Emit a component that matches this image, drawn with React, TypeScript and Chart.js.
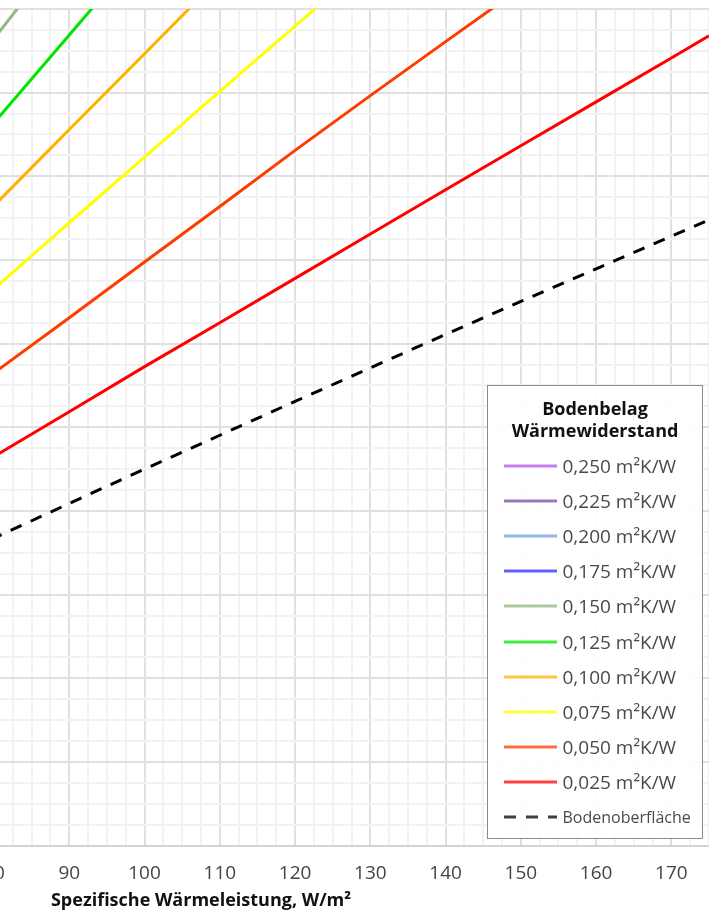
import React, { useEffect, useRef } from 'react';
import { Chart, registerables } from 'chart.js';

Chart.register(...registerables);

// Spezifische Wärmeleistung, W/m²
const Q = [40, 50, 60, 70, 80, 90, 100, 110, 120, 130, 140, 150, 160, 170, 175];

// Temperaturdifferenz, K (read from the picture / estimated where outside the visible part)
const R250 = [13.8, 17.25, 20.65, 24.0, 27.3, 30.6, 33.9, 37.1, 40.3, 43.5, 46.7, 49.8, 52.9, 56.0, 57.5];
const R225 = [12.85, 16.0, 19.15, 22.25, 25.3, 28.4, 31.4, 34.4, 37.4, 40.4, 43.4, 46.3, 49.2, 52.1, 53.5];
const R200 = [11.8, 14.7, 17.6, 20.45, 23.3, 26.1, 28.9, 31.7, 34.5, 37.3, 40.0, 42.8, 45.5, 48.2, 49.5];
const R175 = [10.8, 13.45, 16.1, 18.7, 21.3, 23.9, 26.4, 29.0, 31.5, 34.0, 36.5, 39.0, 41.5, 44.0, 45.2];
const R150 = [9.8, 12.2, 14.6, 16.96, 19.29, 21.6, 23.9, 26.2, 28.5, 30.8, 33.1, 35.4, 37.7, 39.9, 41.0];
const R125 = [8.75, 10.9, 13.05, 15.17, 17.28, 19.38, 21.48, 23.57, 25.66, 27.74, 29.8, 31.9, 33.9, 36.0, 37.0];
const R100 = [7.85, 9.74, 11.6, 13.47, 15.3, 17.12, 18.93, 20.75, 22.55, 24.35, 26.1, 27.9, 29.7, 31.4, 32.3];
const R075 = [6.84, 8.48, 10.1, 11.72, 13.31, 14.89, 16.46, 18.03, 19.59, 21.15, 22.7, 24.2, 25.7, 27.2, 28.0];
const R050 = [5.83, 7.22, 8.6, 9.96, 11.3, 12.62, 13.95, 15.28, 16.62, 17.93, 19.22, 20.5, 21.8, 23.0, 23.7];
const R025 = [4.9, 6.02, 7.13, 8.22, 9.3, 10.37, 11.45, 12.5, 13.56, 14.62, 15.68, 16.73, 17.78, 18.83, 19.36];
const SURFACE = [3.91, 4.79, 5.65, 6.51, 7.35, 8.18, 9.0, 9.81, 10.62, 11.42, 12.22, 13.01, 13.79, 14.57, 14.96];

const SERIES = [R250, R225, R200, R175, R150, R125, R100, R075, R050, R025, SURFACE];
const LABELS = [
  '0,250 m²K/W',
  '0,225 m²K/W',
  '0,200 m²K/W',
  '0,175 m²K/W',
  '0,150 m²K/W',
  '0,125 m²K/W',
  '0,100 m²K/W',
  '0,075 m²K/W',
  '0,050 m²K/W',
  '0,025 m²K/W',
  'Bodenoberfläche',
];
const COLORS = [
  '#b44ee6',
  '#7a4a9e',
  '#6f9be0',
  '#2b2bff',
  '#93b77f',
  '#00e600',
  '#ffb000',
  '#ffff00',
  '#ff3c00',
  '#ff0000',
  '#000000',
];
const DASHED = [false, false, false, false, false, false, false, false, false, false, true];

const X_MIN = 40;
const X_MAX = 175;
const Y_MIN = 0;
const Y_MAX = 20;
const X_TITLE = 'Spezifische Wärmeleistung, W/m²';
const Y_TITLE = 'Temperaturdifferenz, K';
const LEGEND_TITLE = ['Bodenbelag', 'Wärmewiderstand'];

const FONT = '"Open Sans", "Noto Sans", sans-serif';
const MAJOR = '#e0e0e0';
const MINOR = '#f2f2f2';

const Y_AXIS_WIDTH = 70;
const CANVAS_LEFT = -377;
const CANVAS_W = 1086;
const CANVAS_H = 912;

export default function App() {
  const ref = useRef<HTMLCanvasElement | null>(null);

  useEffect(() => {
    document.body.style.overflow = 'hidden';
    const canvas = ref.current;
    if (!canvas) return;
    const chart = new Chart(canvas, {
      type: 'line',
      data: {
        datasets: SERIES.map((s, i) => ({
          label: LABELS[i],
          data: s.map((y, j) => ({ x: Q[j], y })),
          borderColor: COLORS[i],
          backgroundColor: COLORS[i],
          borderWidth: 3,
          borderDash: DASHED[i] ? [12, 10] : [],
          pointRadius: 0,
          tension: 0,
          fill: false,
        })),
      },
      options: {
        responsive: false,
        animation: false,
        layout: { padding: { top: 6, right: 0, left: 0, bottom: 0 } },
        plugins: {
          legend: { display: false },
          tooltip: { enabled: false },
        },
        scales: {
          x: {
            type: 'linear',
            min: X_MIN,
            max: X_MAX,
            afterFit: (scale: any) => {
              scale.paddingRight = 0;
              scale.paddingLeft = 0;
            },
            grid: {
              color: (c: any) => (c.tick && c.tick.value % 10 === 0 ? MAJOR : MINOR),
              lineWidth: 2,
              drawTicks: false,
            },
            border: { color: '#d4d4d4', width: 2 },
            ticks: {
              stepSize: 2.5,
              autoSkip: false,
              maxRotation: 0,
              padding: 17,
              color: '#444',
              font: { family: FONT, size: 19 },
              callback: (v: any) => (Number(v) % 10 === 0 ? String(v) : ''),
            },
            title: {
              display: true,
              text: X_TITLE,
              color: '#111',
              font: { family: FONT, size: 18, weight: 'bold' },
              padding: { top: -12, bottom: 0 },
            },
          },
          y: {
            type: 'linear',
            min: Y_MIN,
            max: Y_MAX,
            afterFit: (scale: any) => {
              scale.width = Y_AXIS_WIDTH;
            },
            grid: {
              color: (c: any) => (c.tick && c.tick.value % 2 === 0 ? MAJOR : MINOR),
              lineWidth: 2,
              drawTicks: false,
            },
            border: { color: '#d4d4d4', width: 2 },
            ticks: {
              stepSize: 0.5,
              autoSkip: false,
              color: '#444',
              font: { family: FONT, size: 10 },
              callback: (v: any) => (Number(v) % 2 === 0 ? String(v) : ''),
            },
            title: {
              display: true,
              text: Y_TITLE,
              color: '#111',
              font: { family: FONT, size: 10, weight: 'bold' },
            },
          },
        },
      },
    });
    return () => chart.destroy();
  }, []);

  return (
    <>
      <div
        style={{
          position: 'absolute',
          left: CANVAS_LEFT,
          top: 0,
          width: CANVAS_W,
          height: CANVAS_H,
        }}
      >
        <canvas ref={ref} width={CANVAS_W} height={CANVAS_H} style={{ display: 'block' }} />
      </div>
      <div
        style={{
          position: 'absolute',
          left: 487,
          top: 385,
          width: 216,
          height: 454,
          boxSizing: 'border-box',
          border: '1.5px solid #8a8a8a',
          background: 'rgba(255,255,255,0.92)',
          fontFamily: FONT,
        }}
      >
        <div
          style={{
            textAlign: 'center',
            fontWeight: 'bold',
            fontSize: 18,
            lineHeight: '22px',
            color: '#111',
            paddingTop: 11,
            marginBottom: 7,
          }}
        >
          {LEGEND_TITLE.map((t) => (
            <div key={t}>{t}</div>
          ))}
        </div>
        {LABELS.map((label, i) => (
          <div
            key={label}
            style={{ display: 'flex', alignItems: 'center', height: 35.2, paddingLeft: 15.5 }}
          >
            <svg width={53} height={4} style={{ flex: '0 0 auto', opacity: 0.75 }}>
              <line
                x1={0}
                y1={2}
                x2={53}
                y2={2}
                stroke={DASHED[i] ? '#000' : COLORS[i]}
                strokeWidth={3}
                strokeDasharray={DASHED[i] ? '12 10' : undefined}
              />
            </svg>
            <span
              style={{
                marginLeft: 6,
                fontSize: DASHED[i] ? 16 : 19,
                color: '#4a4a4a',
                whiteSpace: 'nowrap',
                lineHeight: '22px',
              }}
            >
              {label}
            </span>
          </div>
        ))}
      </div>
    </>
  );
}
